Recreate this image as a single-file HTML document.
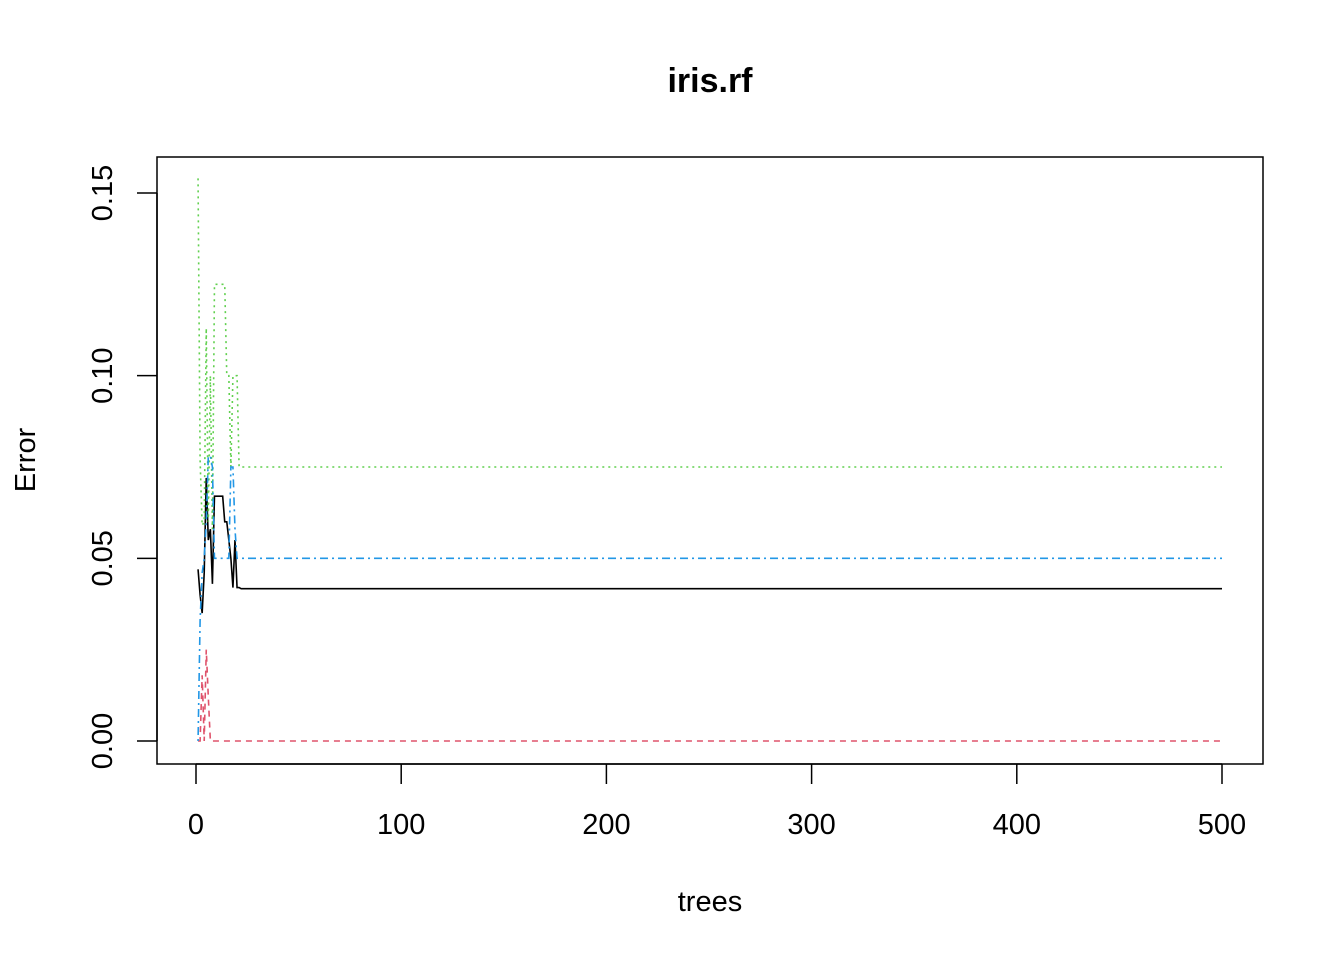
<!DOCTYPE html>
<html><head><meta charset="utf-8"><style>
body{margin:0;background:#fff}
svg text{font-family:"Liberation Sans",Arial,sans-serif}
</style></head><body>
<svg id="chart" width="1344" height="960" viewBox="0 0 1344 960">
<rect width="1344" height="960" fill="#fff"/>
<text x="710" y="92" font-size="34" font-weight="bold" text-anchor="middle">iris.rf</text>
<text x="710" y="911" font-size="29" text-anchor="middle">trees</text>
<text transform="translate(35,460) rotate(-90)" font-size="29" text-anchor="middle">Error</text>
<rect x="157" y="157" width="1106" height="607" fill="none" stroke="#000" stroke-width="1.5"/>
<g id="axes"></g>
<g id="series"></g>
</svg>
<script>
const xTicks=[0,100,200,300,400,500];
const yTicks=[0,0.05,0.10,0.15];
const yTickLabels=["0.00","0.05","0.10","0.15"];
const nTrees=500;
const oobEarly=[0.047,0.040,0.035,0.046,0.072,0.055,0.058,0.043,0.067,0.067,0.067,0.067,0.067,0.060,0.060,0.055,0.050,0.042,0.055,0.042,0.042];
const setosaEarly=[0.0,0.0,0.018,0.0,0.025,0.012,0.0,0.0,0.0,0.0,0.0,0.0,0.0,0.0,0.0,0.0,0.0,0.0,0.0,0.0,0.0];
const versicolorEarly=[0.154,0.077,0.059,0.060,0.113,0.060,0.100,0.058,0.125,0.125,0.125,0.125,0.125,0.125,0.100,0.100,0.075,0.100,0.100,0.100,0.075];
const virginicaEarly=[0.0,0.033,0.046,0.050,0.060,0.078,0.078,0.075,0.050,0.050,0.050,0.050,0.050,0.050,0.050,0.050,0.075,0.075,0.058,0.050,0.050];
const finalValues=[0.0417,0.0,0.075,0.05];
const seriesColors=["#000000","#DF536B","#61D04F","#2297E6"];
const seriesDash=["","6,5","2,4","2,4,8,4"];

const X=v=>196+v*(1222-196)/500;
const Y=v=>741-v*(741-193)/0.15;
const NS="http://www.w3.org/2000/svg";
const axes=document.getElementById('axes');
function mk(tag,attrs,parent){const e=document.createElementNS(NS,tag);for(const k in attrs)e.setAttribute(k,attrs[k]);parent.appendChild(e);return e;}
mk('line',{x1:X(0),x2:X(500),y1:764,y2:764,stroke:'#000','stroke-width':1.5},axes);
xTicks.forEach(t=>{
  const l=mk('line',{x1:X(t),x2:X(t),y1:764,y2:784,stroke:'#000','stroke-width':1.5},axes);
  
  
  const tx=mk('text',{x:X(t),y:834,'font-size':29,'text-anchor':'middle'},axes);
  tx.textContent=t;
  
  
});
mk('line',{x1:157,x2:157,y1:Y(0),y2:Y(0.15),stroke:'#000','stroke-width':1.5},axes);
yTicks.forEach((t,i)=>{
  const l=mk('line',{x1:137,x2:157,y1:Y(t),y2:Y(t),stroke:'#000','stroke-width':1.5},axes);
  
  
  const tx=mk('text',{transform:`translate(112,${Y(t)}) rotate(-90)`,'font-size':29,'text-anchor':'middle'},axes);
  tx.textContent=yTickLabels[i];
  
  
});
const sg=document.getElementById('series');
const names=['oob-line','setosa-line','versicolor-line','virginica-line'];
[oobEarly,setosaEarly,versicolorEarly,virginicaEarly].forEach((arr,i)=>{
  const pts=[];
  arr.forEach((v,j)=>pts.push([X(j+1),Y(v)]));
  pts.push([X(arr.length+1),Y(finalValues[i])]);
  pts.push([X(nTrees),Y(finalValues[i])]);
  const p=mk('polyline',{points:pts.map(p=>p.join(',')).join(' '),fill:'none',stroke:seriesColors[i],'stroke-width':1.6,'stroke-dasharray':seriesDash[i]},sg);
  
  
});
</script>
</body></html>
